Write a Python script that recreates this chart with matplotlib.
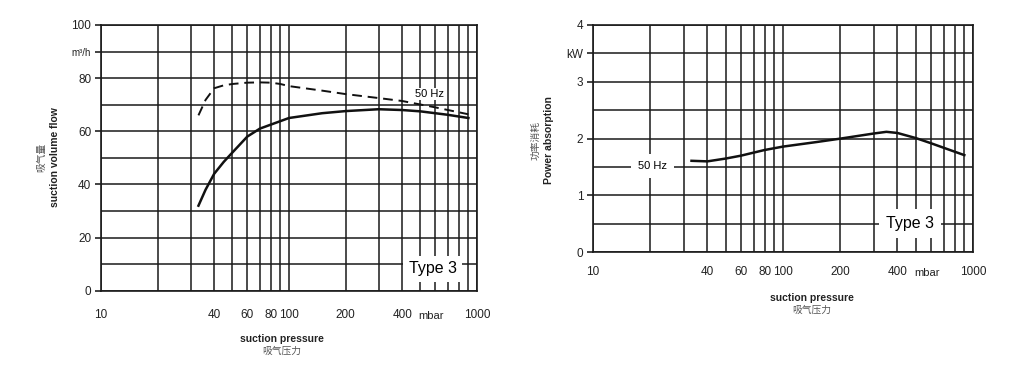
import matplotlib.pyplot as plt
import matplotlib.transforms as mtransforms
import numpy as np

plt.rcParams['font.family'] = ['Liberation Sans', 'DejaVu Sans']

# left chart: suction volume flow (m3/h) vs suction pressure (mbar)
flow_p = [33, 36, 40, 45, 50, 60, 70, 80, 100, 150, 200, 300, 400, 500, 600, 700, 900]
flow_solid = [32, 38, 44, 48.5, 52, 58, 61, 62.5, 65, 66.8, 67.6, 68.3, 68.0, 67.5, 66.8, 66.2, 65.0]
dash_p = [33, 36, 40, 45, 50, 60, 70, 80, 90, 100, 150, 200, 300, 400, 600, 900]
flow_dash = [66, 71.8, 76.2, 77.3, 77.8, 78.3, 78.4, 78.3, 77.8, 77.0, 75.3, 74.0, 72.5, 71.4, 69.0, 66.4]

# right chart: power absorption (kW)
pow_p = [33, 40, 50, 60, 80, 100, 150, 200, 300, 350, 400, 500, 600, 700, 900]
power = [1.61, 1.60, 1.65, 1.70, 1.80, 1.86, 1.94, 2.00, 2.09, 2.12, 2.10, 2.01, 1.92, 1.84, 1.71]

x_major = [10, 40, 60, 80, 100, 200, 400, 1000]
x_labels = ['10', '40', '60', '80', '100', '200', '400', '1000']
x_grid = [v * d for d in (10, 100) for v in range(1, 10)] + [1000]

fig = plt.figure(figsize=(10.24, 3.66), dpi=100)
ax1 = fig.add_axes([0.0986, 0.2057, 0.3672, 0.726])
ax2 = fig.add_axes([0.5791, 0.3107, 0.3711, 0.621])

gc = '#1a1a1a'


def setup(ax, ymax, ystep, ylab_ticks, ylab_text, xpad):
    ax.set_xscale('log')
    ax.set_xlim(10, 1000)
    ax.set_ylim(0, ymax)
    for v in x_grid:
        ax.axvline(v, color=gc, lw=1.1, zorder=1)
    for v in np.arange(0, ymax + ystep / 2, ystep):
        ax.axhline(v, color=gc, lw=1.1, zorder=1)
    ax.set_xticks(x_major)
    ax.set_xticklabels(x_labels)
    ax.xaxis.set_minor_locator(plt.NullLocator())
    ax.tick_params(axis='x', length=0, pad=xpad, labelsize=8.5, colors='#222')
    ax.set_yticks(ylab_ticks)
    ax.set_yticklabels(ylab_text)
    ax.tick_params(axis='y', length=4, width=1.2, pad=3, labelsize=8.5, colors='#222')
    for s in ax.spines.values():
        s.set_color(gc)
        s.set_linewidth(1.2)
    # unit label sits among the x tick labels
    lbl = ax.get_xticklabels()[0]
    tr = mtransforms.blended_transform_factory(ax.transData, ax.transAxes)
    ax.text(570, 0, 'mbar', transform=tr + mtransforms.ScaledTranslation(0, -(xpad + 1.5) / 72, fig.dpi_scale_trans),
            fontsize=8, ha='center', va='top', color='#222')


setup(ax1, 100, 10, [0, 20, 40, 60, 80, 90, 100],
      ['0', '20', '40', '60', '80', 'm³/h', '100'], 13)
ax1.get_yticklabels()[5].set_fontsize(7)
ax1.plot(flow_p, flow_solid, color='#111', lw=1.8, zorder=3)
ax1.plot(dash_p, flow_dash, color='#111', lw=1.4, dashes=(5, 3), zorder=3)
ax1.text(557, 74, '50 Hz', fontsize=8, ha='center', va='center', zorder=4,
         bbox=dict(facecolor='white', edgecolor='none', pad=1))
ax1.text(580, 8.2, 'Type 3', fontsize=11.5, ha='center', va='center', zorder=4,
         bbox=dict(facecolor='white', edgecolor='none', pad=4))

setup(ax2, 4, 0.5, [0, 1, 2, 3, 3.5, 4], ['0', '1', '2', '3', 'kW', '4'], 10)
ax2.plot(pow_p, power, color='#111', lw=1.8, zorder=3)
ax2.text(20.5, 1.52, '50 Hz', fontsize=8, ha='center', va='center', zorder=4,
         bbox=dict(facecolor='white', edgecolor='none', pad=5))
ax2.text(468, 0.51, 'Type 3', fontsize=11.5, ha='center', va='center', zorder=4,
         bbox=dict(facecolor='white', edgecolor='none', pad=5))

cjk = ['Noto Sans CJK SC', 'DejaVu Sans']

# axis titles
fig.text(282 / 1024, 1 - 339 / 366, 'suction pressure', fontsize=7.5, weight='bold',
         ha='center', va='center', color='#222')
fig.text(282 / 1024, 1 - 351 / 366, '吸气压力', fontsize=7, family=cjk,
         ha='center', va='center', color='#555')
fig.text(55 / 1024, 1 - 157 / 366, 'suction volume flow', fontsize=7.5, weight='bold',
         rotation=90, ha='center', va='center', color='#222')
fig.text(41 / 1024, 1 - 157 / 366, '吸气量', fontsize=7, family=cjk,
         rotation=90, ha='center', va='center', color='#555')

fig.text(812 / 1024, 1 - 298 / 366, 'suction pressure', fontsize=7.5, weight='bold',
         ha='center', va='center', color='#222')
fig.text(812 / 1024, 1 - 310 / 366, '吸气压力', fontsize=7, family=cjk,
         ha='center', va='center', color='#555')
fig.text(549 / 1024, 1 - 140 / 366, 'Power absorption', fontsize=7.5, weight='bold',
         rotation=90, ha='center', va='center', color='#222')
fig.text(536 / 1024, 1 - 140 / 366, '功率消耗', fontsize=7, family=cjk,
         rotation=90, ha='center', va='center', color='#555')

fig.savefig('out.png', dpi=100, facecolor='white')
